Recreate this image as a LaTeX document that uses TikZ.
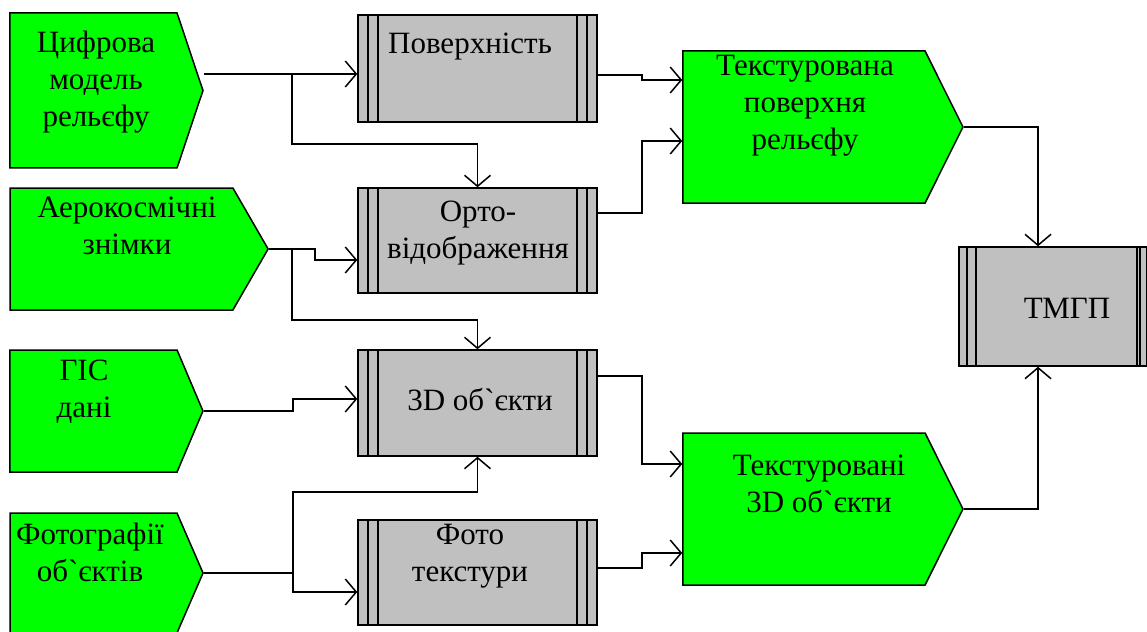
\documentclass[tikz,border=0pt]{standalone}
\usepackage{fontspec}
\setmainfont{Liberation Serif}
\usepackage{tikz}
\usetikzlibrary{
  arrows.meta,
  calc,
  shapes.symbols
}
\definecolor{srcgreen}{RGB}{0,255,0}
\definecolor{procgray}{RGB}{192,192,192}

\begin{document}
\begin{tikzpicture}[x = 1pt, y = -1pt,
  strips left/.store in = \stripsL, strips right/.store in = \stripsR,
  strips left = {10,20}, strips right = {10,20},
  src/.style = {signal, signal to = east, signal from = nowhere, draw, fill = srcgreen, line width = 1.5pt, inner sep = 0pt},
  proc/.style = {rectangle, draw, fill = procgray, line width = 1.5pt, inner sep = 0pt, minimum width = 239pt,
    path picture = {
      \foreach \dx in \stripsL
        \draw[line width = 1.5pt] ([xshift = \dx pt]path picture bounding box.north west) -- ([xshift = \dx pt]path picture bounding box.south west);
      \foreach \dx in \stripsR
        \draw[line width = 1.5pt] ([xshift = -\dx pt]path picture bounding box.north east) -- ([xshift = -\dx pt]path picture bounding box.south east);
    }},
  lbl/.style = {align = center, inner sep = 0pt, font = \fontsize{31}{37}\selectfont},
  flow/.style = {->, line width = 1.5pt}]
  \tikzset{>={Straight Barb[length = 11pt, width = 26pt]}}

  \useasboundingbox (0,0) rectangle (1147,631);

  % inputs
  \node[src, minimum width = 193pt, minimum height = 155pt, signal pointer angle = 143] (dem) at (93.5,90.5) {};
  \node[src, minimum width = 258pt, minimum height = 122pt, signal pointer angle = 120] (aero) at (121.5,249) {};
  \node[src, minimum width = 193pt, minimum height = 122pt, signal pointer angle = 134] (gis) at (93.5,411) {};
  \node[src, minimum width = 193pt, minimum height = 120pt, signal pointer angle = 133] (photo) at (93.5,573) {};

  % processes
  \node[proc, minimum height = 107pt] (srf) at (477.5,68.5) {};
  \node[proc, minimum height = 105pt] (orto) at (477.5,240.5) {};
  \node[proc, minimum height = 106pt] (obj3d) at (477.5,403) {};
  \node[proc, minimum height = 105pt] (phtex) at (477.5,572.5) {};

  % results
  \node[src, minimum width = 280pt, minimum height = 152pt, signal pointer angle = 127] (tsurf) at (804,127) {};
  \node[src, minimum width = 280pt, minimum height = 152pt, signal pointer angle = 127] (tobj) at (804,509) {};
  \node[proc, minimum width = 188pt, minimum height = 119pt, strips left = {8,17}, strips right = {7,10}] (tmgp) at (1053,306.5) {};

  % texts
  \node[lbl] (demtxt) at (96,82) {Цифрова\\модель\\рельєфу};
  \node[lbl] (aerotxt) at (127,226) {Аерокосмічні\\знімки};
  \node[lbl] (gistxt) at (84,392) {ГІС\\дані};
  \node[lbl] (phototxt) at (90,552) {Фотографії\\об\textasciigrave єктів};
  \node[lbl] (srftxt) at (470,47) {Поверхність};
  \node[lbl] (ortotxt) at (478,233) {Орто-\\відображення};
  \node[lbl] (obj3dtxt) at (480,400) {3D об\textasciigrave єкти};
  \node[lbl] (phtextxt) at (470,556) {Фото\\текстури};
  \node[lbl] (tsurftxt) at (805,106) {Текстурована\\поверхня\\рельєфу};
  \node[lbl] (tobjtxt) at (819,484) {Текстуровані\\3D об\textasciigrave єкти};
  \node[lbl] (tmgptxt) at (1067,308) {ТМГП};

  \coordinate (jdem) at (292,74);
  \coordinate (jaero) at (292,249);
  \coordinate (jphoto) at (293,573);

  \draw[flow] (dem.east |- jdem) -- (srf.west |- jdem);
  \draw[flow] (jdem) -- (292,144) -| (orto.north);
  \draw[flow] (aero.east) -| (315,260) -- (orto.west |- 0,260);
  \draw[flow] (jaero) -- (292,320) -| (obj3d.north);
  \draw[flow] (gis.east) -| (293,399) -- (obj3d.west |- 0,399);
  \draw[flow] (photo.east) -| (293,592) -- (phtex.west |- 0,592);
  \draw[flow] (jphoto) -- (293,492) -| (obj3d.south);

  \draw[flow] (srf.east |- 0,75) -| (642,80) -- (tsurf.west |- 0,80);
  \draw[flow] (orto.east |- 0,213) -| (642,141) -- (tsurf.west |- 0,141);
  \draw[flow] (obj3d.east |- 0,376) -| (642,464) -- (tobj.west |- 0,464);
  \draw[flow] (phtex.east |- 0,568) -| (642,553) -- (tobj.west |- 0,553);

  \draw[flow] (tsurf.east) -| (tmgp.north -| 1038,0);
  \draw[flow] (tobj.east) -| (tmgp.south -| 1038,0);
\end{tikzpicture}
\end{document}
